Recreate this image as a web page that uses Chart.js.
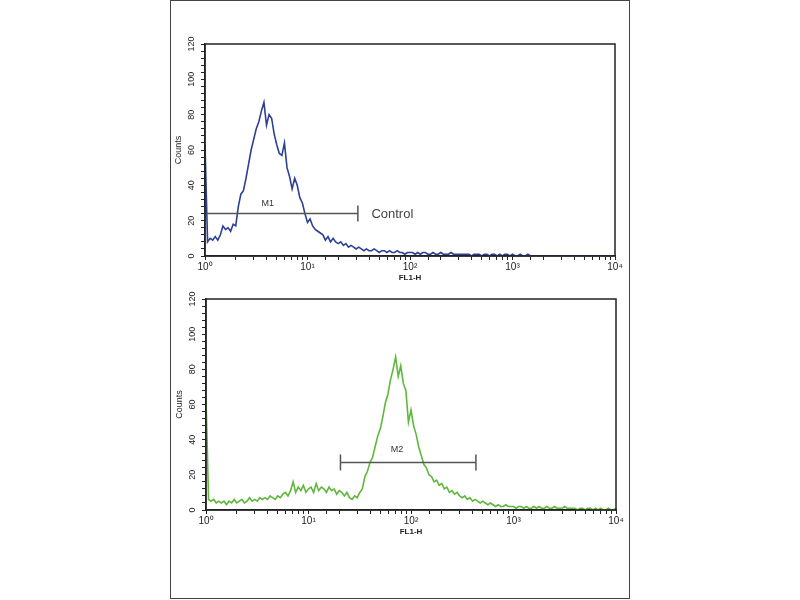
<!DOCTYPE html>
<html>
<head>
<meta charset="utf-8">
<script src="https://cdn.jsdelivr.net/npm/chart.js@4/dist/chart.umd.min.js"></script>
<style>
  html, body { margin: 0; padding: 0; background: #fff; }
  #stage { position: relative; width: 800px; height: 600px; overflow: hidden; }
  #frame { position: absolute; left: 170px; top: 0; width: 458px; height: 597px; border: 1px solid #444; }
  canvas { position: absolute; left: 0; }
  #chartTop { top: 0; }
  #chartBottom { top: 290px; }
</style>
</head>
<body>
<div id="stage">
  <div id="frame"></div>
  <canvas id="chartTop" width="800" height="290"></canvas>
  <canvas id="chartBottom" width="800" height="310"></canvas>
</div>
<script>
(function() {
    'use strict';

    // histogram channels: 40 per decade, channel i sits at 10^(i/40)
    var STEPS_PER_DECADE = 40;

    var controlCounts = [
        63, 8, 10, 9, 11, 9, 12, 17, 15, 16,
        14, 18, 17, 28, 35, 37, 44, 52, 60, 66,
        72, 76, 82, 87, 74, 80, 78, 69, 63, 58,
        57, 64, 50, 45, 38, 44, 40, 33, 30, 24,
        19, 21, 17, 15, 14, 13, 12, 9, 11, 8,
        10, 8, 7, 8, 6, 7, 5, 6, 5, 4,
        5, 4, 3, 4, 3, 3, 4, 3, 2, 3,
        3, 2, 3, 2, 2, 3, 2, 2, 1, 2,
        2, 2, 1, 2, 1, 2, 2, 1, 1, 2,
        1, 1, 2, 1, 1, 1, 2, 1, 1, 1,
        1, 1, 1, 1, 0, 1, 1, 1, 0, 1,
        1, 0, 1, 1, 0, 1, 0, 1, 1, 0,
        1, 0, 0, 1, 0, 0, 1, 0, 0, 0,
        0, 0, 0, 0, 0, 0, 0, 0, 0, 0,
        0, 0, 0, 0, 0, 0, 0, 0, 0, 0,
        0, 0, 0, 0, 0, 0, 0, 0, 0, 0,
        0
    ];

    var sampleCounts = [
        64, 6, 5, 6, 4, 5, 4, 5, 3, 5,
        4, 6, 4, 5, 6, 4, 5, 7, 5, 6,
        5, 7, 6, 7, 6, 8, 7, 6, 8, 7,
        9, 10, 8, 11, 16, 10, 13, 11, 14, 10,
        12, 13, 10, 15, 11, 13, 12, 10, 13, 11,
        12, 9, 11, 10, 8, 10, 7, 6, 8, 7,
        10, 12, 19, 22, 27, 30, 36, 42, 46, 53,
        61, 66, 74, 80, 87, 76, 82, 72, 68, 50,
        57, 48, 43, 36, 31, 26, 24, 20, 19, 16,
        17, 14, 15, 12, 13, 10, 11, 9, 10, 8,
        7, 8, 6, 7, 5, 6, 5, 4, 5, 4,
        3, 4, 3, 2, 3, 2, 2, 3, 2, 2,
        2, 1, 2, 2, 1, 2, 1, 1, 2, 1,
        2, 1, 1, 2, 1, 1, 2, 1, 1, 1,
        2, 1, 1, 1, 1, 0, 1, 1, 0, 1,
        1, 0, 1, 0, 1, 0, 0, 1, 0, 0,
        1
    ];

    var yTicks = [0, 20, 40, 60, 80, 100, 120];
    var xDecades = [1, 10, 100, 1000, 10000];

    // gate markers: [from, to] on FL1-H, height in counts, label anchor
    var m1Range = [1, 31];
    var m1Level = 24;
    var m1LabelX = 4.1;
    var m2Range = [20.5, 430];
    var m2Level = 27;
    var m2LabelX = 73;
    var controlLabelX = 42;

    var SUP = ['\u2070', '\u00b9', '\u00b2', '\u00b3', '\u2074'];
    var FONT = "'Liberation Sans', Arial, sans-serif";
    var INK = '#222';

    function toPoints(counts) {
        return counts.map(function(c, i) {
            return { x: Math.pow(10, i / STEPS_PER_DECADE), y: c };
        });
    }

    var framePlugin = {
        id: 'plotFrame',
        afterDraw: function(chart) {
            var a = chart.chartArea, ctx = chart.ctx;
            ctx.save();
            ctx.strokeStyle = INK;
            ctx.lineWidth = 1.5;
            ctx.strokeRect(a.left, a.top, a.right - a.left, a.bottom - a.top);
            ctx.restore();
        }
    };

    var markerPlugin = {
        id: 'gateMarker',
        afterDatasetsDraw: function(chart, args, opts) {
            var xs = chart.scales.x, ys = chart.scales.y, ctx = chart.ctx;
            var x0 = xs.getPixelForValue(opts.range[0]);
            var x1 = xs.getPixelForValue(opts.range[1]);
            var y = ys.getPixelForValue(opts.level);
            ctx.save();
            ctx.strokeStyle = '#555';
            ctx.lineWidth = 1.5;
            ctx.beginPath();
            ctx.moveTo(x0, y); ctx.lineTo(x1, y);
            ctx.moveTo(x0, y - 8); ctx.lineTo(x0, y + 8);
            ctx.moveTo(x1, y - 8); ctx.lineTo(x1, y + 8);
            ctx.stroke();
            ctx.fillStyle = '#333';
            ctx.font = '9px ' + FONT;
            ctx.textAlign = 'center';
            ctx.textBaseline = 'middle';
            ctx.fillText(opts.label, xs.getPixelForValue(opts.labelX), y - opts.labelGap);
            if (opts.note) {
                ctx.font = '13px ' + FONT;
                ctx.textAlign = 'left';
                ctx.fillStyle = '#444';
                ctx.fillText(opts.note, xs.getPixelForValue(opts.noteX), y + 1);
            }
            ctx.restore();
        }
    };

    function makeChart(id, counts, color, marker, pad, xHeight) {
        return new Chart(document.getElementById(id), {
            type: 'line',
            data: {
                datasets: [{
                    data: toPoints(counts),
                    borderColor: color,
                    borderWidth: 1.6,
                    pointRadius: 0,
                    tension: 0,
                    fill: false
                }]
            },
            plugins: [framePlugin, markerPlugin],
            options: {
                responsive: false,
                animation: false,
                layout: { padding: pad },
                plugins: {
                    legend: { display: false },
                    tooltip: { enabled: false },
                    gateMarker: marker
                },
                scales: {
                    x: {
                        type: 'logarithmic',
                        min: xDecades[0],
                        max: xDecades[xDecades.length - 1],
                        grid: { drawOnChartArea: false, tickLength: 4, color: INK },
                        border: { color: INK, width: 1.5 },
                        ticks: {
                            autoSkip: false, maxRotation: 0, padding: 1,
                            color: INK, font: { family: FONT, size: 10 },
                            callback: function(v) {
                                var k = xDecades.indexOf(v);
                                return k >= 0 ? '10' + SUP[k] : '';
                            }
                        },
                        title: {
                            display: true, text: 'FL1-H', color: INK,
                            font: { family: FONT, size: 8, weight: 'bold' },
                            padding: 0
                        },
                        afterFit: function(s) { s.height = xHeight; }
                    },
                    y: {
                        min: yTicks[0],
                        max: yTicks[yTicks.length - 1],
                        grid: { drawOnChartArea: false, tickLength: 4, color: INK },
                        border: { color: INK, width: 1.5 },
                        ticks: {
                            stepSize: 4, autoSkip: false, minRotation: 90, maxRotation: 90,
                            crossAlign: 'center', padding: 2,
                            color: INK, font: { family: FONT, size: 9 },
                            callback: function(v) { return yTicks.indexOf(v) >= 0 ? String(v) : ''; }
                        },
                        title: {
                            display: true, text: 'Counts', color: INK,
                            font: { family: FONT, size: 9 },
                            padding: 0
                        },
                        afterFit: function(s) { s.width = 32; }
                    }
                }
            }
        });
    }

    makeChart('chartTop', controlCounts, '#2f3f96', {
        range: m1Range, level: m1Level, label: 'M1', labelX: m1LabelX, labelGap: 10,
        note: 'Control', noteX: controlLabelX
    }, { left: 173, right: 185, top: 44, bottom: 7 }, 27);

    makeChart('chartBottom', sampleCounts, '#5fb83c', {
        range: m2Range, level: m2Level, label: 'M2', labelX: m2LabelX, labelGap: 13
    }, { left: 174, right: 184, top: 9, bottom: 63 }, 27);
})();
</script>
</body>
</html>
